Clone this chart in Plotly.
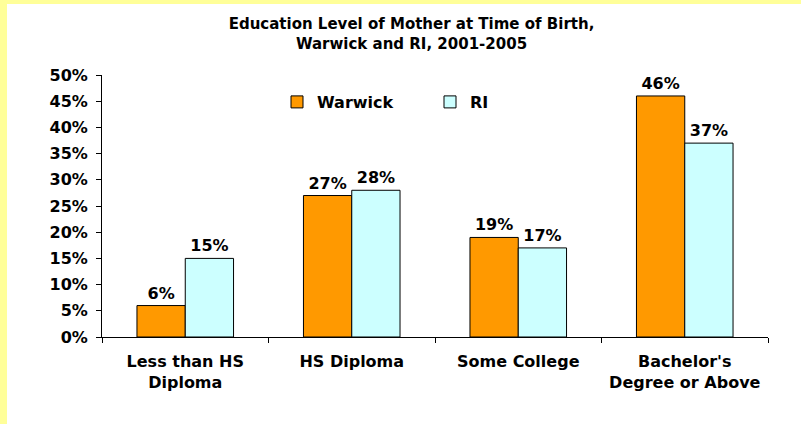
import plotly.graph_objects as go

# datos
categorias = ["Less than HS<br>Diploma", "HS Diploma", "Some College", "Bachelor's<br>Degree or Above"]
warwick = [6, 27, 19, 46]
ri = [15, 28, 17, 37]
ticks_y = [0, 5, 10, 15, 20, 25, 30, 35, 40, 45, 50]

fuente = dict(family="DejaVu Sans, sans-serif", size=16, color="black", weight="bold")

fig = go.Figure()
fig.add_trace(go.Bar(x=categorias, y=warwick, name="Warwick",
                     marker=dict(color="#FF9900", line=dict(color="black", width=1)),
                     text=[str(v) + "%" for v in warwick], textposition="outside",
                     textfont=fuente, cliponaxis=False))
fig.add_trace(go.Bar(x=categorias, y=ri, name="RI",
                     marker=dict(color="#CCFFFF", line=dict(color="black", width=1)),
                     text=[str(v) + "%" for v in ri], textposition="outside",
                     textfont=fuente, cliponaxis=False))

L, R, T, B = 102, 33, 75, 87
W, H = 801, 424
pw, ph = W - L - R, H - T - B

fig.update_layout(
    width=W, height=H,
    margin=dict(l=L, r=R, t=T, b=B, pad=0),
    paper_bgcolor="white", plot_bgcolor="white",
    font=fuente,
    barmode="group", bargap=0.42, bargroupgap=0,
    title=dict(text="Education Level of Mother at Time of Birth,<br>Warwick and RI, 2001-2005",
               x=411.5 / W, xanchor="center", y=1 - 29 / H, yanchor="middle",
               font=dict(fuente, size=15)),
    legend=dict(orientation="h", x=(277 - L) / pw, xanchor="left",
                y=(H - B - 102) / ph, yanchor="middle",
                font=fuente, bgcolor="rgba(0,0,0,0)",
                entrywidth=108, entrywidthmode="pixels"),
    showlegend=True,
    xaxis=dict(showline=True, linecolor="black", linewidth=1, ticks="outside",
               ticklen=5, tickcolor="black", tickson="boundaries", showgrid=False,
               ticklabelstandoff=10, tickfont=fuente),
    yaxis=dict(range=[0, 50], tickvals=ticks_y, ticktext=[str(v) + "%" for v in ticks_y],
               showline=True, linecolor="black", linewidth=1, ticks="outside",
               ticklen=5, tickcolor="black", showgrid=False, zeroline=False,
               ticklabelstandoff=5, tickfont=fuente),
)

# borde amarillo izquierdo y superior
fig.add_shape(type="rect", xref="paper", yref="paper",
              x0=-L / pw, x1=(7 - L) / pw, y0=-B / ph, y1=(H - B) / ph,
              fillcolor="#FFFF99", line_width=0)
fig.add_shape(type="rect", xref="paper", yref="paper",
              x0=-L / pw, x1=(W - L) / pw, y0=(H - B - 4) / ph, y1=(H - B) / ph,
              fillcolor="#FFFF99", line_width=0)

fig.write_html("out.html", config={"displayModeBar": False},
               post_script="document.body.style.margin='0px';")
